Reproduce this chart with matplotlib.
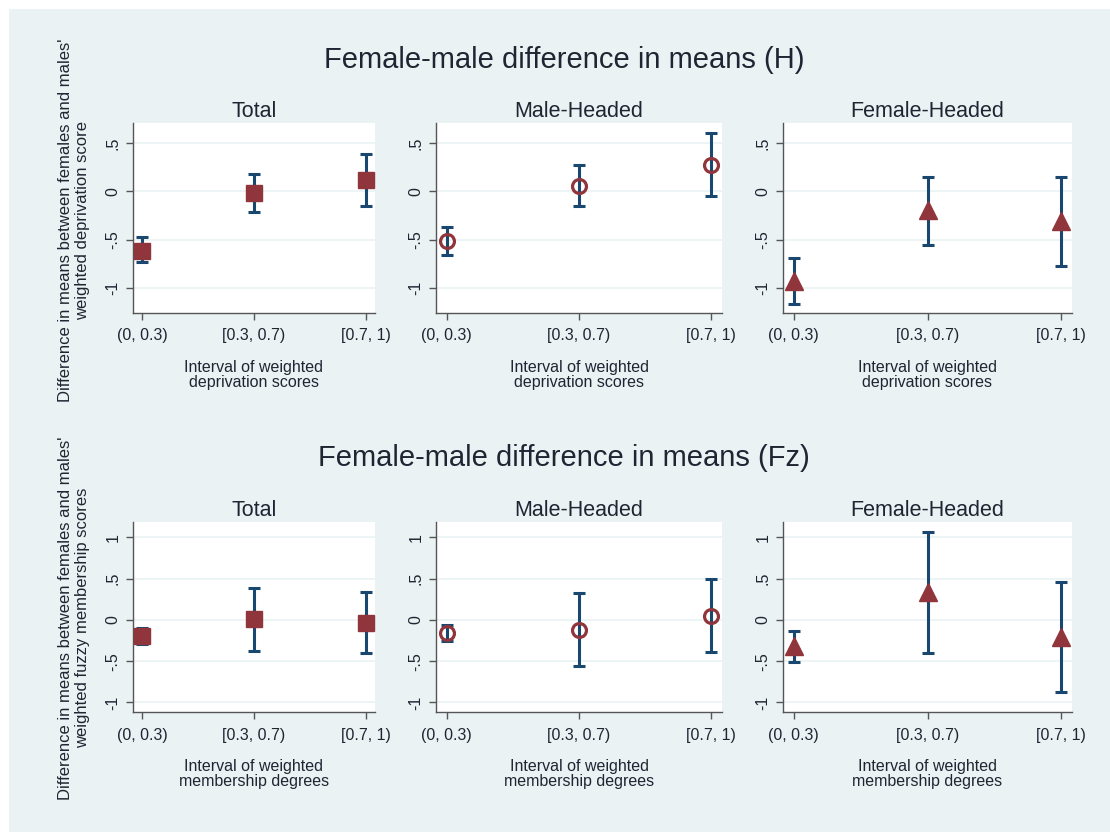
import numpy as np
import matplotlib
matplotlib.use("Agg")
import matplotlib.pyplot as plt
from matplotlib.patches import Rectangle

plt.rcParams['font.family'] = ['Liberation Sans', 'DejaVu Sans']

categories = ["(0, 0.3)", "[0.3, 0.7)", "[0.7, 1)"]
groups = ["Total", "Male-Headed", "Female-Headed"]

# H: mean differences and CI bounds
h_mean = {
    "Total": [-0.615, -0.02, 0.115],
    "Male-Headed": [-0.51, 0.05, 0.27],
    "Female-Headed": [-0.93, -0.19, -0.31],
}
h_low = {
    "Total": [-0.73, -0.21, -0.155],
    "Male-Headed": [-0.66, -0.155, -0.05],
    "Female-Headed": [-1.17, -0.55, -0.77],
}
h_high = {
    "Total": [-0.47, 0.175, 0.39],
    "Male-Headed": [-0.37, 0.27, 0.6],
    "Female-Headed": [-0.69, 0.15, 0.15],
}

# Fz: mean differences and CI bounds
fz_mean = {
    "Total": [-0.2, 0.01, -0.04],
    "Male-Headed": [-0.16, -0.12, 0.05],
    "Female-Headed": [-0.32, 0.34, -0.21],
}
fz_low = {
    "Total": [-0.29, -0.38, -0.4],
    "Male-Headed": [-0.25, -0.56, -0.39],
    "Female-Headed": [-0.51, -0.4, -0.87],
}
fz_high = {
    "Total": [-0.1, 0.39, 0.34],
    "Male-Headed": [-0.06, 0.33, 0.49],
    "Female-Headed": [-0.14, 1.07, 0.46],
}

h_ticks = [-1, -0.5, 0, 0.5]
h_ticklabels = ["-1", "-.5", "0", ".5"]
fz_ticks = [-1, -0.5, 0, 0.5, 1]
fz_ticklabels = ["-1", "-.5", "0", ".5", "1"]

BG = "#eaf2f3"
NAVY = "#1a476f"
MAROON = "#90353b"
TXT = "#1f2633"

W, H = 1110, 832
fig = plt.figure(figsize=(W / 100, H / 100), dpi=100, facecolor="white")
fig.patches.append(Rectangle((9 / W, 0), 1, 1 - 9 / H, transform=fig.transFigure,
                             facecolor=BG, edgecolor="none", zorder=-10))

lefts = [133, 436, 783]
rights = [375, 722, 1072]
rows = [(123, 313), (521.7, 712.3)]

markers = {
    "Total": dict(marker="s", markersize=11.5, markerfacecolor=MAROON,
                  markeredgecolor=MAROON),
    "Male-Headed": dict(marker="o", markersize=10, markerfacecolor="none",
                        markeredgecolor=MAROON, markeredgewidth=2.3),
    "Female-Headed": dict(marker="^", markersize=12.5, markerfacecolor=MAROON,
                          markeredgecolor=MAROON),
}

x = np.arange(1, 4)


def panel(rect, mean, low, high, ticks, ticklabels, ylim, xlabel, marker):
    ax = fig.add_axes(rect)
    ax.set_facecolor("white")
    mean = np.array(mean)
    yerr = [mean - np.array(low), np.array(high) - mean]
    ax.errorbar(x, mean, yerr=yerr, fmt="none", ecolor=NAVY, elinewidth=2.2,
                capsize=4, capthick=2.2, zorder=3)
    ax.plot(x, mean, linestyle="none", zorder=4, **marker)
    ax.set_xlim(0.92, 3.08)
    ax.set_ylim(*ylim)
    ax.set_xticks(x)
    ax.set_xticklabels(categories, fontsize=11.5, color=TXT)
    ax.set_yticks(ticks)
    ax.set_yticklabels(ticklabels, fontsize=11.5, color=TXT, rotation=90,
                       va="center")
    ax.grid(axis="y", color=BG, linewidth=1.2)
    ax.set_axisbelow(True)
    for s in ["top", "right"]:
        ax.spines[s].set_visible(False)
    for s in ["left", "bottom"]:
        ax.spines[s].set_color("#555555")
        ax.spines[s].set_linewidth(1.0)
    ax.tick_params(axis="both", length=5, width=1, color="#555555")
    ax.tick_params(axis="x", pad=6)
    ax.tick_params(axis="y", pad=4)
    ax.set_xlabel(xlabel, fontsize=11.5, color=TXT, labelpad=12,
                  linespacing=1.0)
    return ax


data_rows = [
    (h_mean, h_low, h_high, h_ticks, h_ticklabels, (-1.258, 0.706),
     "Interval of weighted\ndeprivation scores"),
    (fz_mean, fz_low, fz_high, fz_ticks, fz_ticklabels, (-1.12, 1.19),
     "Interval of weighted\nmembership degrees"),
]

for r, (top, bot) in enumerate(rows):
    mean, low, high, ticks, tl, ylim, xl = data_rows[r]
    for i, g in enumerate(groups):
        rect = [lefts[i] / W, 1 - bot / H, (rights[i] - lefts[i]) / W,
                (bot - top) / H]
        ax = panel(rect, mean[g], low[g], high[g], ticks, tl, ylim, xl,
                   markers[g])
        ax.set_title(g, fontsize=15.5, color=TXT, pad=4)

fig.text(564 / W, 1 - 60 / H, "Female-male difference in means (H)",
         fontsize=21, color=TXT, ha="center", va="center")
fig.text(564 / W, 1 - 458 / H, "Female-male difference in means (Fz)",
         fontsize=21, color=TXT, ha="center", va="center")

fig.text(74 / W, 1 - 220 / H,
         "Difference in means between females and males'\nweighted deprivation score",
         fontsize=12, color=TXT, rotation=90, ha="center", va="center",
         multialignment="center", linespacing=1.15)
fig.text(74 / W, 1 - 618 / H,
         "Difference in means between females and males'\nweighted fuzzy membership scores",
         fontsize=12, color=TXT, rotation=90, ha="center", va="center",
         multialignment="center", linespacing=1.15)

fig.savefig("out.png", dpi=100, facecolor="white")
